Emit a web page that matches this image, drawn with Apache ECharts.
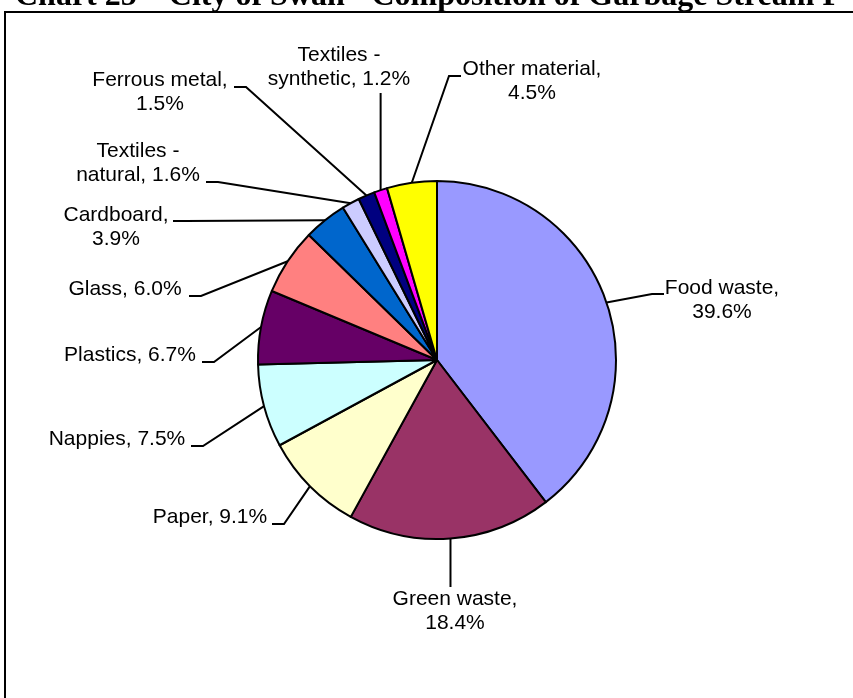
<!DOCTYPE html>
<html><head><meta charset="utf-8">
<script src="https://cdn.jsdelivr.net/npm/echarts@6/dist/echarts.min.js"></script>
<style>html,body{margin:0;padding:0;background:#fff}#c{width:853px;height:698px}</style>
</head><body><div id="c"></div>
<script>
// ---- data ----
const chartTitle = 'Chart 25 \u2013 City of Swan - Composition of Garbage Stream P';
const categories = ['Food waste','Green waste','Paper','Nappies','Plastics','Glass','Cardboard','Textiles - natural','Ferrous metal','Textiles - synthetic','Other material'];
const shares = [39.6, 18.4, 9.1, 7.5, 6.7, 6.0, 3.9, 1.6, 1.5, 1.2, 4.5];
const sliceColors = ['#9999FF','#993366','#FFFFCC','#CCFFFF','#660066','#FF8080','#0066CC','#CCCCFF','#000080','#FF00FF','#FFFF00'];
const wrapLabel = [true, true, false, false, false, false, true, true, true, true, true];

// ---- label placement (text centre, leader end, stub) ----
const labelPlacement = [
  {c:[722,300], end:[664,294], stub:-12},
  {c:[455,611], endY:587},
  {c:[210,517], end:[272,524], stub:12},
  {c:[117,439], end:[191,446], stub:12},
  {c:[130,355], end:[202,362], stub:12},
  {c:[125,289], end:[189,296], stub:12},
  {c:[116,227], end:[173,221], stub:12},
  {c:[138,163], end:[206,182], stub:12},
  {c:[160,92],  end:[234,87],  stub:12},
  {c:[339,67],  endY:93},
  {c:[532,81],  end:[461,76],  stub:-12}
];

function labelText(p) {
  const i = p.dataIndex;
  const v = shares[i].toFixed(1) + '%';
  const n = categories[i];
  if (!wrapLabel[i]) return n + ', ' + v;
  if (n.indexOf(' - ') >= 0) return n.replace(' - ', ' -\n') + ', ' + v;
  return n + ',\n' + v;
}

const chart = echarts.init(document.getElementById('c'), null, {renderer: 'canvas'});
chart.setOption({
  backgroundColor: '#fff',
  animation: false,
  title: {
    text: chartTitle,
    left: 15, top: -19, padding: 0,
    textStyle: {fontFamily: 'Liberation Serif', fontWeight: 'bold', fontSize: 32, color: '#000', lineHeight: 32}
  },
  graphic: [{
    type: 'rect', z: -1, silent: true,
    shape: {x: 5, y: 12, width: 1000, height: 1000},
    style: {fill: 'none', stroke: '#000', lineWidth: 2}
  }],
  series: [{
    type: 'pie',
    center: [437, 360],
    radius: 179,
    startAngle: 90,
    clockwise: true,
    avoidLabelOverlap: false,
    emphasis: {disabled: true},
    itemStyle: {borderColor: '#000', borderWidth: 2},
    label: {
      show: true, position: 'outside', formatter: labelText,
      color: '#000', fontFamily: 'Liberation Sans', fontSize: 21, lineHeight: 24
    },
    labelLine: {show: true, length: 10, length2: 10, smooth: false, lineStyle: {color: '#000', width: 2}},
    labelLayout: function (params) {
      const L = labelPlacement[params.dataIndex];
      const pts = params.labelLinePoints;
      const s = pts ? pts[0] : null;
      const out = {x: L.c[0], y: L.c[1], align: 'center', verticalAlign: 'middle'};
      if (s) {
        if (L.end) {
          out.labelLinePoints = [[s[0], s[1]], [L.end[0] + L.stub, L.end[1]], [L.end[0], L.end[1]]];
        } else {
          out.labelLinePoints = [[s[0], s[1]], [s[0], L.endY], [s[0], L.endY]];
        }
      }
      return out;
    },
    data: categories.map((n, i) => ({name: n, value: shares[i], itemStyle: {color: sliceColors[i]}}))
  }]
});
</script>
</body></html>
